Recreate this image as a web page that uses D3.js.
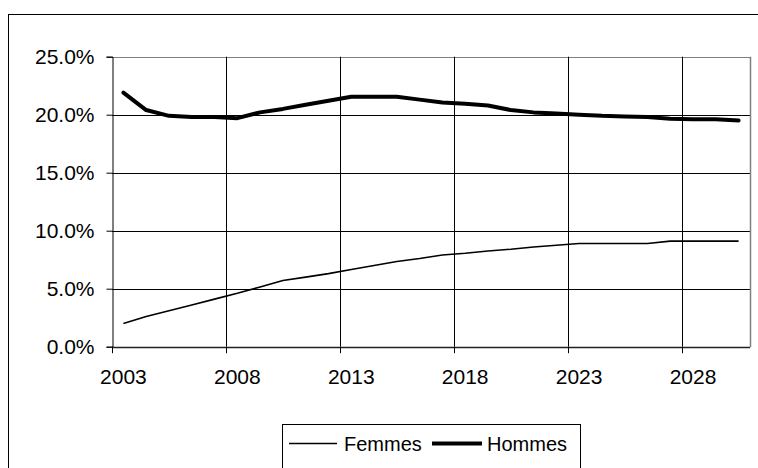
<!DOCTYPE html>
<html>
<head>
<meta charset="utf-8">
<script src="https://cdn.jsdelivr.net/npm/d3@7"></script>
<style>
  html, body { margin: 0; padding: 0; background: #fff; }
  svg { display: block; font-family: "Liberation Sans", Arial, sans-serif; }
</style>
</head>
<body>
<svg id="chart" width="758" height="468"></svg>
<script>
const years = [2003, 2004, 2005, 2006, 2007, 2008, 2009, 2010, 2011, 2012,
               2013, 2014, 2015, 2016, 2017, 2018, 2019, 2020, 2021, 2022,
               2023, 2024, 2025, 2026, 2027, 2028, 2029, 2030];
const femmes = [2.0, 2.6, 3.1, 3.6, 4.1, 4.6, 5.15, 5.7, 6.0, 6.3,
                6.65, 7.0, 7.35, 7.6, 7.9, 8.05, 8.25, 8.4, 8.6, 8.75,
                8.9, 8.9, 8.9, 8.9, 9.1, 9.1, 9.1, 9.1];
const hommes = [21.9, 20.4, 19.9, 19.8, 19.8, 19.7, 20.2, 20.5, 20.85, 21.2,
                21.55, 21.55, 21.55, 21.3, 21.05, 20.95, 20.8, 20.4, 20.2, 20.1,
                20.0, 19.9, 19.85, 19.8, 19.65, 19.6, 19.6, 19.5];
const yTicks = [0, 5, 10, 15, 20, 25];
const xLabelYears = [2003, 2008, 2013, 2018, 2023, 2028];
const seriesNames = ["Femmes", "Hommes"];

(function () {
const svg = d3.select("#chart");
const pLeft = 112, pRight = 750, pTop = 56.7, pBottom = 346.7;

const x = d3.scaleBand().domain(years).range([pLeft, pRight]).padding(0);
const y = d3.scaleLinear().domain([0, 25]).range([pBottom, pTop]);

// outer chart frame
svg.append("rect").attr("x", 8.5).attr("y", 14.5).attr("width", 800).attr("height", 500)
  .attr("fill", "#fff").attr("stroke", "#000").attr("stroke-width", 1);

// horizontal gridlines
svg.append("g").selectAll("line").data(yTicks.filter(d => d > 0)).join("line")
  .attr("x1", pLeft).attr("x2", pRight)
  .attr("y1", d => Math.round(y(d)) + 0.5).attr("y2", d => Math.round(y(d)) + 0.5)
  .attr("stroke", d => d === 25 ? "#808080" : "#000").attr("stroke-width", 1);

// vertical gridlines at category boundaries every 5 years
const boundaryYears = xLabelYears;
svg.append("g").selectAll("line").data(boundaryYears.slice(1)).join("line")
  .attr("x1", d => Math.round(x(d)) + 0.5).attr("x2", d => Math.round(x(d)) + 0.5)
  .attr("y1", pTop).attr("y2", pBottom)
  .attr("stroke", "#000").attr("stroke-width", 1);

// right border of plot area
svg.append("line").attr("x1", pRight + 0.5).attr("x2", pRight + 0.5)
  .attr("y1", pTop).attr("y2", pBottom + 0.5).attr("stroke", "#808080").attr("stroke-width", 1.5);

// y axis
const yAxis = d3.axisLeft(y).tickValues(yTicks).tickSize(6).tickPadding(12)
  .tickFormat(d => d3.format(".1f")(d) + "%");
const gy = svg.append("g").attr("transform", `translate(${pLeft + 0.5},0)`).call(yAxis);
gy.select(".domain").attr("stroke", "#000");
gy.selectAll(".tick line").attr("stroke", "#000");
gy.selectAll(".tick text").attr("font-size", 21).attr("fill", "#000")
  .attr("font-family", "Liberation Sans, Arial, sans-serif").attr("dy", "0.3em");

// x axis line
svg.append("line").attr("x1", pLeft).attr("x2", pRight)
  .attr("y1", Math.round(pBottom) + 0.5).attr("y2", Math.round(pBottom) + 0.5)
  .attr("stroke", "#222").attr("stroke-width", 1.5);

// x tick marks at boundaries
svg.append("g").selectAll("line").data(boundaryYears).join("line")
  .attr("x1", d => Math.round(x(d)) + 0.5).attr("x2", d => Math.round(x(d)) + 0.5)
  .attr("y1", pBottom).attr("y2", pBottom + 6.5)
  .attr("stroke", "#000").attr("stroke-width", 1);

// x labels via axis at category centers
const xAxis = d3.axisBottom(x).tickValues(xLabelYears).tickSize(0).tickPadding(22);
const gx = svg.append("g").attr("transform", `translate(0,${pBottom})`).call(xAxis);
gx.select(".domain").remove();
gx.selectAll(".tick text").attr("font-size", 21).attr("fill", "#000")
  .attr("font-family", "Liberation Sans, Arial, sans-serif");

// lines
const cx = d => x(d) + x.bandwidth() / 2;
const line = d3.line().x(d => cx(d[0])).y(d => y(d[1]));
svg.append("path").datum(years.map((yr, i) => [yr, femmes[i]]))
  .attr("d", line).attr("fill", "none").attr("stroke", "#000")
  .attr("stroke-width", 1.6).attr("stroke-linejoin", "round");
svg.append("path").datum(years.map((yr, i) => [yr, hommes[i]]))
  .attr("d", line).attr("fill", "none").attr("stroke", "#000")
  .attr("stroke-width", 4).attr("stroke-linejoin", "round").attr("stroke-linecap", "round");

// legend
const lg = svg.append("g");
lg.append("rect").attr("x", 282.5).attr("y", 424.5).attr("width", 298).attr("height", 60)
  .attr("fill", "#fff").attr("stroke", "#000").attr("stroke-width", 1);
const legendItems = [
  { name: seriesNames[0], x1: 289, x2: 337, tx: 344, w: 1.6 },
  { name: seriesNames[1], x1: 432, x2: 482, tx: 487, w: 4 }
];
legendItems.forEach(it => {
  lg.append("line").attr("x1", it.x1).attr("x2", it.x2).attr("y1", 443.5).attr("y2", 443.5)
    .attr("stroke", "#000").attr("stroke-width", it.w);
  lg.append("text").attr("x", it.tx).attr("y", 450.5).attr("font-size", 20)
    .attr("fill", "#000").text(it.name);
});
})();
</script>
</body>
</html>
